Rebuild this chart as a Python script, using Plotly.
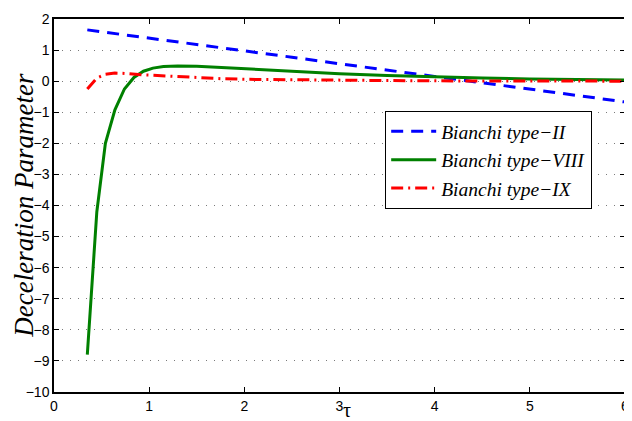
import plotly.graph_objects as go

tau = [0.35, 0.45, 0.54, 0.64, 0.74, 0.84, 0.94, 1.04, 1.15, 1.3, 1.5, 1.75,
       2.0, 2.5, 3.0, 3.5, 4.0, 4.5, 5.0, 5.5, 6.0]
q_II = [1.65, 1.61, 1.57, 1.53, 1.49, 1.45, 1.41, 1.37, 1.33, 1.26, 1.18, 1.08,
        0.97, 0.77, 0.56, 0.36, 0.15, -0.05, -0.26, -0.46, -0.67]
q_VIII = [-8.8, -4.2, -2.0, -0.92, -0.25, 0.12, 0.32, 0.42, 0.47, 0.49, 0.48, 0.44,
          0.39, 0.31, 0.24, 0.18, 0.13, 0.10, 0.07, 0.05, 0.04]
q_IX = [-0.25, 0.10, 0.22, 0.26, 0.25, 0.22, 0.20, 0.19, 0.17, 0.14, 0.11, 0.08,
        0.06, 0.04, 0.03, 0.02, 0.01, 0.01, 0.0, 0.0, 0.0]

names = ["Bianchi type\u2212II", "Bianchi type\u2212VIII", "Bianchi type\u2212IX"]

fig = go.Figure()
fig.add_trace(go.Scatter(x=tau, y=q_II, mode="lines", name=names[0],
                         line=dict(color="#0000ff", width=3, dash="12px,8px")))
fig.add_trace(go.Scatter(x=tau, y=q_VIII, mode="lines", name=names[1],
                         line=dict(color="#008000", width=3)))
fig.add_trace(go.Scatter(x=tau, y=q_IX, mode="lines", name=names[2],
                         line=dict(color="#ff0000", width=3, dash="12px,5px,2px,5px")))

axis_common = dict(showline=True, linecolor="black", linewidth=1.5, mirror="ticks",
                   ticks="inside", ticklen=5, tickcolor="black", tickwidth=1,
                   zeroline=False,
                   tickfont=dict(family="Liberation Sans, Arial", size=14, color="black"))

fig.update_xaxes(range=[0, 6], dtick=1, showgrid=False, **axis_common)
fig.update_yaxes(range=[-10, 2], dtick=1, showgrid=True, gridcolor="#7a7a7a",
                 gridwidth=1, griddash="1px,7px", **axis_common)

# plot area spans 575 px (x) by 374 px (y)
fig.add_annotation(text="Deceleration Parameter", xref="paper", yref="paper",
                   x=-31.0 / 575, y=0.5, xanchor="center", yanchor="middle",
                   textangle=-90, showarrow=False,
                   font=dict(family="Liberation Serif, Times New Roman", size=27,
                             color="black", style="italic"))
fig.add_annotation(text="\u03c4", xref="x", yref="paper", x=3.08, y=-18.0 / 374,
                   xanchor="center", yanchor="middle", showarrow=False,
                   font=dict(family="Liberation Serif, Times New Roman", size=20,
                             color="black"))

fig.update_layout(
    width=624, height=413,
    margin=dict(l=46, r=3, t=10, b=29),
    plot_bgcolor="white", paper_bgcolor="white",
    showlegend=True,
    legend=dict(x=0.58, y=0.753, xanchor="left", yanchor="top",
                bgcolor="white", bordercolor="black", borderwidth=1,
                itemwidth=45,
                font=dict(family="Liberation Serif, Times New Roman", size=19.5,
                          color="black", style="italic")),
)

fig.write_html("out.html")
